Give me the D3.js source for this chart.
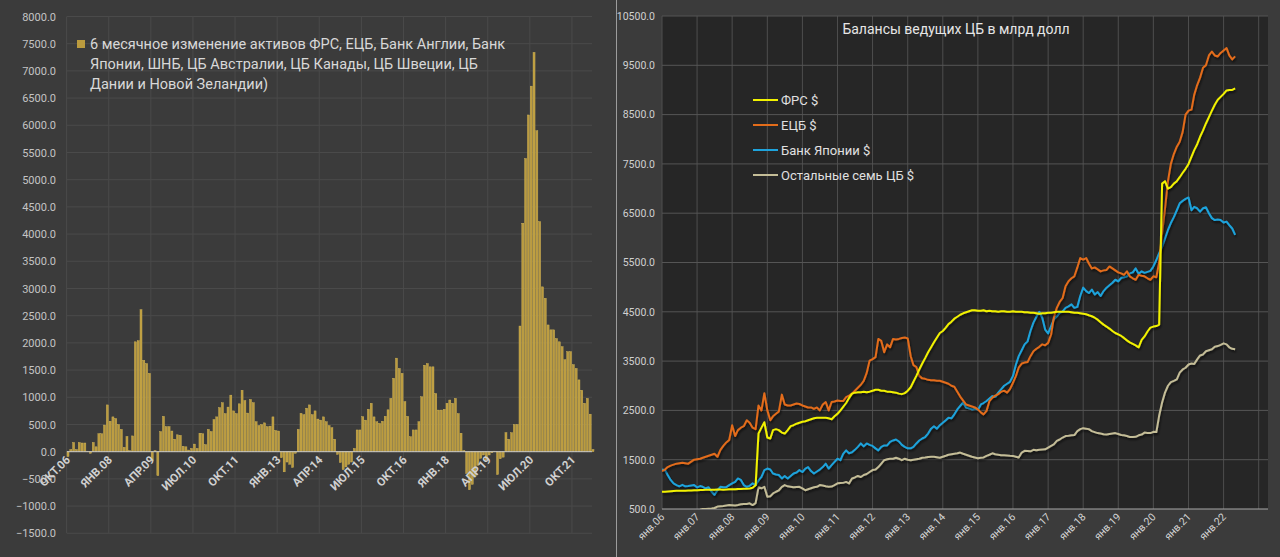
<!DOCTYPE html>
<html>
<head>
<meta charset="utf-8">
<script src="https://cdn.jsdelivr.net/npm/d3@7"></script>
<style>
body { margin: 0; background: #3b3b3b; }
svg text { font-family: Roboto, "Noto Sans", sans-serif; }
</style>
</head>
<body>
<svg id="chart" width="1280" height="557"></svg>
<script>
// ===== левый график: 6-месячное изменение активов, окт.06 - май.22, помесячно =====
var barStart = new Date(2006, 9, 1);
var barValues = [
    -90, 40, 170, 40, 170, 160, 160, 10, -30, 170, 90, 330, 330, 490, 860, 560, 640, 610, 500, 410, 80, 280, 20, 290,
    2020, 2040, 2610, 1680, 1620, 1440,
    -170, 20, -440,
    370, 650, 460, 460, 380, 230, 310, 300, 100, 90, 30, 60, 140, 60,
    340, 330, 130, 410, 370, 590, 640, 810, 900, 700, 820, 1040, 750, 700,
    880, 1130, 940, 710, 960, 900, 550, 480, 500, 530, 460, 470, 640, 390, 380,
    -110, -370, -190, -230, -290, -30,
    410, 705, 680, 800, 860, 680, 750, 600, 580, 640, 550, 480, 440, 230,
    -50, -200, -330, -280, -230, -190,
    60, 400, 400, 645, 580, 780, 890, 640, 550, 520, 560, 650, 770, 980, 1350, 1720, 1530, 1440, 920, 650,
    275, 400, 400, 550, 1010, 1590, 1620, 1560, 1560, 1070, 765, 765, 780, 890, 950, 890, 980, 700, 340, 20,
    -400, -700, -600, -450, -250, -120, -60, -150, -60, -20, 10, -420, -130, -100,
    350, 230, 350, 500, 500, 2310, 4200, 5390, 6190, 6720, 7340, 5900, 4230, 3030, 2820, 2330,
    2240, 2240, 2080, 2020, 1930, 1690, 1840, 1840, 1600, 1530, 1320, 1130, 890, 980, 690, 40
];
// подпись каждые 15 месяцев
var barTickLabels = ["ОКТ.06", "ЯНВ.08", "АПР.09", "ИЮЛ.10", "ОКТ.11", "ЯНВ.13", "АПР.14",
    "ИЮЛ.15", "ОКТ.16", "ЯНВ.18", "АПР.19", "ИЮЛ.20", "ОКТ.21"];
var barLegendLines = [
    "6 месячное изменение активов ФРС, ЕЦБ, Банк Англии, Банк",
    "Японии, ШНБ, ЦБ Австралии, ЦБ Канады, ЦБ Швеции, ЦБ",
    "Дании и Новой Зеландии)"
];

// ===== правый график: балансы ЦБ, млрд долл, янв.06 - май.22 =====
var lineStart = new Date(2006, 0, 1);
var fedValues = [
    850, 850, 855, 860, 865, 870, 870, 870, 870, 875, 875, 880,          // 2006
    880, 885, 885, 890, 890, 890, 890, 895, 895, 890, 895, 900,          // 2007
    900, 900, 905, 905, 910, 910, 915, 930, 980, 2030, 2150, 2260,       // 2008
    1950, 1930, 2100, 2120, 2100, 2050, 2030, 2100, 2180, 2200, 2230, 2250,
    2270, 2280, 2300, 2320, 2340, 2350, 2350, 2350, 2350, 2340, 2320, 2380,
    2430, 2500, 2570, 2650, 2750, 2840, 2860, 2870, 2870, 2880, 2870, 2880,
    2900, 2920, 2920, 2900, 2900, 2880, 2880, 2870, 2860, 2840, 2830, 2850,
    2900, 2970, 3080, 3200, 3330, 3450, 3560, 3680, 3780, 3880, 3980, 4070,
    4110, 4180, 4250, 4300, 4360, 4400, 4440, 4470, 4490, 4510, 4530, 4530,
    4520, 4520, 4530, 4510, 4520, 4510, 4510, 4500, 4510, 4510, 4500, 4500,
    4510, 4500, 4500, 4500, 4490, 4490, 4480, 4480, 4470, 4460, 4470, 4470,
    4480, 4480, 4490, 4500, 4500, 4500, 4500, 4500, 4490, 4480, 4480, 4470,
    4460, 4450, 4430, 4410, 4380, 4340, 4290, 4240, 4200, 4160, 4110, 4070,
    4040, 4010, 3970, 3920, 3880, 3850, 3820, 3780, 3930, 4000, 4100, 4180,
    4200, 4210, 4240, 7100, 7150, 7000, 7030, 7100, 7150, 7230, 7320, 7400,
    7500, 7650, 7780, 7900, 8050, 8180, 8320, 8450, 8580, 8700, 8800, 8860,
    8920, 8990, 9000, 9000, 9030                                         // 2022
];
var ecbValues = [
    1270, 1300, 1350, 1380, 1400, 1420, 1430, 1440, 1430, 1420, 1460, 1500,
    1510, 1520, 1540, 1560, 1580, 1600, 1620, 1560, 1700, 1780, 1850, 1900,
    2200, 1980, 2100, 2150, 2180, 2300, 2250, 2150, 2120, 2600, 2500, 2850,
    2500, 2300, 2380, 2430, 2480, 2820, 2620, 2600, 2600, 2620, 2640, 2630,
    2600, 2580, 2560, 2560, 2530, 2560, 2500, 2620, 2670, 2500, 2670, 2680,
    2700, 2690, 2690, 2770, 2800, 2840, 2900, 2960, 3020, 3100, 3260, 3510,
    3540, 3580, 3950, 3910, 3680, 3840, 3780, 3950, 3940, 3950, 3970, 3980,
    3960, 3600, 3420, 3380, 3200, 3150, 3140, 3120, 3110, 3110, 3100, 3100,
    3080, 3060, 3040, 3000, 2980, 2880, 2780, 2700, 2620, 2600, 2580, 2560,
    2520, 2460, 2420, 2490, 2690, 2760, 2800, 2830, 2880, 2900, 2860, 2930,
    3060, 3200, 3370, 3450, 3470, 3480, 3600, 3700, 3750, 3790, 3840, 3820,
    3870, 4040, 4380, 4580, 4700, 4780, 5020, 5120, 5180, 5220, 5400, 5590,
    5560, 5590, 5480, 5380, 5400, 5360, 5320, 5340, 5350, 5420, 5380, 5340,
    5300, 5280, 5250, 5320, 5220, 5180, 5150, 5250, 5230, 5220, 5180, 5150,
    5220, 5200, 5500, 6100, 6600, 7150, 7500, 7700, 7850, 7950, 8150, 8500,
    8580, 8600, 8900, 9100, 9250, 9450, 9500, 9700, 9780, 9700, 9680, 9750,
    9800, 9850, 9700, 9620, 9680
];
var bojValues = [
    1300, 1290, 1190, 1090, 1020, 985, 960, 990, 960, 965, 975, 985,
    940, 965, 950, 920, 940, 850, 790, 880, 950, 940, 945, 985,
    1020, 1050, 1120, 1090, 985, 950, 970, 1020, 985, 1080, 1150, 1290,
    1320, 1300, 1220, 1200, 1190, 1120, 1170, 1120, 1170, 1220, 1240, 1290,
    1250, 1320, 1350, 1270, 1220, 1260, 1300, 1350, 1420, 1320, 1390, 1455,
    1520, 1490, 1620, 1690, 1630, 1650, 1700, 1760, 1830, 1770, 1830, 1800,
    1780, 1730, 1690, 1760, 1790, 1790, 1860, 1890, 1910, 1870, 1800, 1760,
    1730, 1730, 1760, 1830, 1890, 1930, 1960, 2030, 2130, 2180, 2130, 2200,
    2250, 2300, 2350, 2340, 2420, 2520, 2590, 2660, 2560, 2540, 2520, 2530,
    2510, 2620, 2650, 2690, 2740, 2790, 2770, 2860, 2930, 3000, 3040, 3080,
    3200, 3430, 3600, 3720, 3840, 3900, 4110, 4280, 4400, 4500, 4380, 4140,
    4060, 4210, 4345, 4410, 4480, 4510, 4580, 4610, 4650, 4580, 4600, 4820,
    4990, 4920, 4880, 4950, 4850, 4900, 4820, 4920, 4990, 5040, 5090, 5150,
    5120, 5190, 5200, 5220, 5280, 5300, 5380, 5270, 5320, 5290, 5310, 5330,
    5420, 5550, 5690, 5820, 5990, 6160, 6300, 6420, 6560, 6700, 6750, 6790,
    6820, 6560, 6630, 6600, 6530, 6600, 6620, 6500, 6400, 6360, 6370, 6360,
    6310, 6330, 6260, 6190, 6060
];
var otherValues = [
    420, 420, 425, 430, 430, 435, 440, 440, 445, 450, 455, 465,
    475, 485, 500, 500, 505, 510, 520, 550, 555, 560, 570, 580,
    575, 570, 580, 595, 600, 600, 615, 580, 620, 940, 920, 950,
    750, 760, 815, 850, 880, 950, 985, 960, 950, 940, 945, 950,
    920, 880, 900, 920, 940, 950, 985, 975, 960, 950, 955, 985,
    1020, 1025, 1030, 1050, 1020, 1120, 1140, 1170, 1150, 1190, 1210, 1250,
    1290, 1300, 1350, 1420, 1490, 1510, 1520, 1520, 1540, 1520, 1490, 1520,
    1500, 1490, 1500, 1510, 1520, 1540, 1545, 1555, 1560, 1560, 1550, 1540,
    1560, 1580, 1600, 1610, 1620, 1630, 1645, 1620, 1600, 1580, 1560, 1545,
    1530, 1540, 1545, 1577, 1600, 1630, 1610, 1600, 1590, 1590, 1585, 1580,
    1577, 1560, 1545, 1645, 1680, 1675, 1670, 1700, 1690, 1700, 1705, 1710,
    1745, 1780, 1810, 1880, 1910, 1950, 1980, 1985, 1995, 2000, 2080, 2120,
    2140, 2130, 2120, 2080, 2060, 2040, 2030, 2015, 2010, 2020, 2030, 2040,
    2020, 2000, 1995, 1980, 1960, 1960, 1965, 1995, 2010, 2050, 2040, 2040,
    2065, 2060, 2390, 2660, 2860, 3000, 3075, 3100, 3130, 3265, 3330, 3365,
    3430, 3450, 3440, 3535, 3615, 3635, 3700, 3720, 3740, 3790, 3805, 3830,
    3860, 3840, 3780, 3750, 3740
];
var seriesNames = ["ФРС $", "ЕЦБ $", "Банк Японии $", "Остальные семь ЦБ $"];
var yearLabels = ["янв.06", "янв.07", "янв.08", "янв.09", "янв.10", "янв.11", "янв.12", "янв.13", "янв.14",
    "янв.15", "янв.16", "янв.17", "янв.18", "янв.19", "янв.20", "янв.21", "янв.22"];
var lineTitle = "Балансы ведущих ЦБ в млрд долл";

// цвета
var barColor = "#bb9b3e", barEdge = "#d6ba5c";
var seriesColors = ["#f2f200", "#e36c1a", "#1ea3dc", "#c4bd97"];

var svg = d3.select("#chart");
var fmt = d3.format(".1f");

//----------------------------------------------------------------
// левый график
//----------------------------------------------------------------
var left = svg.append("g");
var xBar = d3.scaleBand().domain(d3.range(barValues.length)).range([67, 594]).paddingInner(0.28);
var yBar = d3.scaleLinear().domain([-1500, 8000]).range([533.3, 16.5]);
var step = xBar.step();

// сетка
left.selectAll("line.hgrid").data(d3.range(-1500, 8001, 500)).enter().append("line")
    .attr("class", "hgrid")
    .attr("x1", xBar.range()[0]).attr("x2", xBar.range()[1] - 2)
    .attr("y1", d => yBar(d)).attr("y2", d => yBar(d))
    .attr("stroke", "#4a4a4a").attr("stroke-width", 1);
var tickIdx = barTickLabels.map((t, k) => k * 15);
left.selectAll("line.vgrid").data(tickIdx).enter().append("line")
    .attr("class", "vgrid")
    .attr("x1", d => xBar(d) - step * 0.14).attr("x2", d => xBar(d) - step * 0.14)
    .attr("y1", yBar(8000)).attr("y2", yBar(-1500))
    .attr("stroke", "#4a4a4a").attr("stroke-width", 1);

// столбцы
left.selectAll("rect.bar").data(barValues).enter().append("rect")
    .attr("class", "bar")
    .attr("x", (d, i) => xBar(i))
    .attr("width", xBar.bandwidth())
    .attr("y", d => yBar(Math.max(0, d)))
    .attr("height", d => Math.abs(yBar(d) - yBar(0)))
    .attr("fill", barColor).attr("stroke", barEdge).attr("stroke-width", 0.4);

// нулевая линия
left.append("line")
    .attr("x1", xBar.range()[0]).attr("x2", xBar.range()[1] - 2)
    .attr("y1", yBar(0)).attr("y2", yBar(0))
    .attr("stroke", "#c8c8c8").attr("stroke-width", 1);

// ось Y
var yAxisL = left.append("g").attr("transform", "translate(56,0)")
    .call(d3.axisLeft(yBar).tickValues(d3.range(-1500, 8001, 500)).tickFormat(fmt).tickSize(0).tickPadding(0));
yAxisL.select(".domain").remove();
yAxisL.selectAll("text").attr("fill", "#c4c4c4").style("font-size", "11px");

// ось X
var xAxisL = left.append("g").attr("transform", "translate(0," + (yBar(0) + 6) + ")")
    .call(d3.axisBottom(xBar).tickValues(tickIdx).tickFormat((d, k) => barTickLabels[k]).tickSize(0));
xAxisL.select(".domain").remove();
xAxisL.selectAll("text")
    .attr("y", 0).attr("x", 0).attr("dy", "0.35em")
    .attr("transform", "rotate(-45)")
    .style("text-anchor", "end")
    .attr("fill", "#d0d0d0").style("font-size", "11.5px").style("font-weight", "bold");

// легенда
left.append("rect").attr("x", 77).attr("y", 40).attr("width", 8).attr("height", 8).attr("fill", barColor);
left.selectAll("text.leg").data(barLegendLines).enter().append("text")
    .attr("class", "leg")
    .attr("x", 90).attr("y", (d, i) => 49 + i * 20)
    .text(d => d)
    .attr("fill", "#d8d8d8").style("font-size", "14.5px");

// разделитель панелей
svg.append("line").attr("x1", 616.5).attr("x2", 616.5).attr("y1", 0).attr("y2", 557)
    .attr("stroke", "#9c9c9c").attr("stroke-width", 1);

//----------------------------------------------------------------
// правый график
//----------------------------------------------------------------
var right = svg.append("g");
var xT = d3.scaleTime().domain([lineStart, new Date(2023, 3, 8)]).range([662, 1268]);
var yL = d3.scaleLinear().domain([500, 10500]).range([509, 16]);

right.append("rect")
    .attr("x", xT.range()[0]).attr("y", yL(10500))
    .attr("width", xT.range()[1] - xT.range()[0]).attr("height", yL(500) - yL(10500))
    .attr("fill", "#262626");

var years = d3.timeYear.range(lineStart, new Date(2023, 1, 1));
right.selectAll("line.vgrid").data(years).enter().append("line")
    .attr("class", "vgrid")
    .attr("x1", d => xT(d)).attr("x2", d => xT(d))
    .attr("y1", yL(10500)).attr("y2", yL(500))
    .attr("stroke", "#4e4e4e").attr("stroke-width", 1);
right.selectAll("line.hgrid").data(d3.range(500, 10501, 1000)).enter().append("line")
    .attr("class", "hgrid")
    .attr("x1", xT.range()[0]).attr("x2", xT.range()[1])
    .attr("y1", d => yL(d)).attr("y2", d => yL(d))
    .attr("stroke", d => d === 500 ? "#a8a8a8" : "#555555").attr("stroke-width", 1);

// ось Y
var yAxisR = right.append("g").attr("transform", "translate(655,0)")
    .call(d3.axisLeft(yL).tickValues(d3.range(500, 10501, 1000)).tickFormat(fmt).tickSize(0).tickPadding(0));
yAxisR.select(".domain").remove();
yAxisR.selectAll("text").attr("fill", "#d0d0d0").style("font-size", "10.5px");

// ось X
var xAxisR = right.append("g").attr("transform", "translate(0," + (yL(500) + 6) + ")")
    .call(d3.axisBottom(xT).tickValues(years.slice(0, yearLabels.length)).tickFormat((d, k) => yearLabels[k]).tickSize(0));
xAxisR.select(".domain").remove();
xAxisR.selectAll("text")
    .attr("y", 0).attr("x", 0).attr("dy", "0.35em")
    .attr("transform", "rotate(-45)")
    .style("text-anchor", "end")
    .attr("fill", "#d4d4d4").style("font-size", "10.5px");

// линии
var defs = svg.append("defs");
defs.append("clipPath").attr("id", "plotClip").append("rect")
    .attr("x", xT.range()[0]).attr("y", yL(10500))
    .attr("width", xT.range()[1] - xT.range()[0]).attr("height", yL(500) - yL(10500));
var shadow = defs.append("filter").attr("id", "shadow").attr("x", "-5%").attr("y", "-5%").attr("width", "110%").attr("height", "110%");
shadow.append("feDropShadow").attr("dx", 1).attr("dy", 2).attr("stdDeviation", 1)
    .attr("flood-color", "#000").attr("flood-opacity", 0.6);

var line = d3.line()
    .x((d, i) => xT(d3.timeMonth.offset(lineStart, i)))
    .y(d => yL(d));
var allSeries = [fedValues, ecbValues, bojValues, otherValues];
var order = [3, 2, 1, 0];
right.append("g").attr("clip-path", "url(#plotClip)")
    .selectAll("path").data(order).enter().append("path")
    .attr("d", k => line(allSeries[k]))
    .attr("fill", "none")
    .attr("stroke", k => seriesColors[k])
    .attr("stroke-width", 2)
    .attr("stroke-linejoin", "round")
    .attr("filter", "url(#shadow)");

// заголовок
right.append("text").attr("x", 956).attr("y", 34).attr("text-anchor", "middle")
    .text(lineTitle).attr("fill", "#e6e6e6").style("font-size", "14px");

// легенда
var leg = right.selectAll("g.leg").data(seriesNames).enter().append("g")
    .attr("class", "leg")
    .attr("transform", (d, i) => "translate(753," + (100 + i * 25) + ")");
leg.append("line").attr("x1", 0).attr("x2", 25).attr("y1", 0).attr("y2", 0)
    .attr("stroke", (d, i) => seriesColors[i]).attr("stroke-width", 2);
leg.append("text").attr("x", 28).attr("dy", "0.35em").text(d => d)
    .attr("fill", "#e0e0e0").style("font-size", "13px");
</script>
</body>
</html>
